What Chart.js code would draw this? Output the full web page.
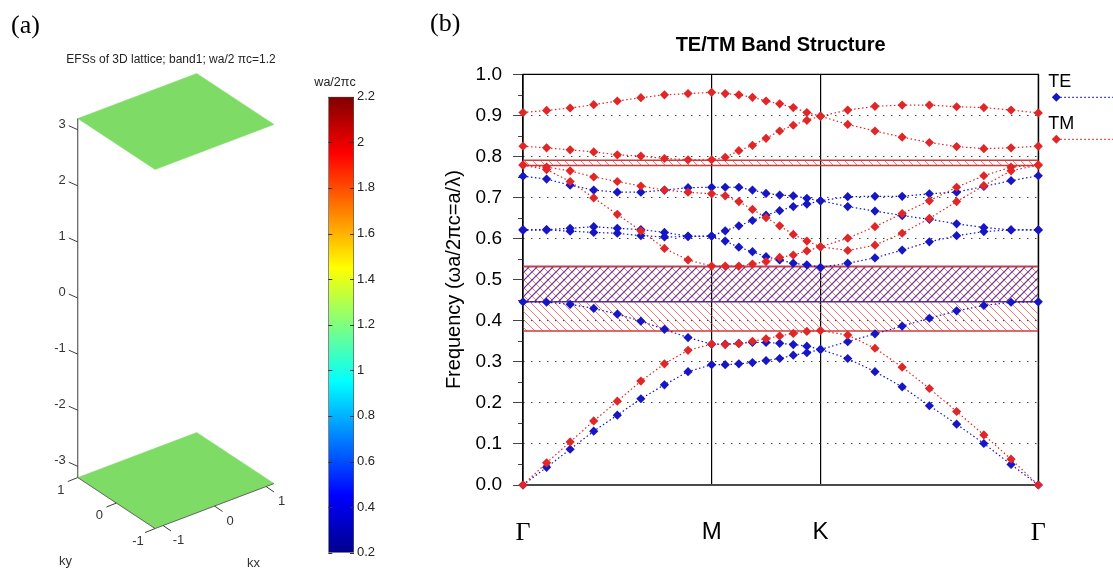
<!DOCTYPE html>
<html>
<head>
<meta charset="utf-8">
<title>EFS and TE/TM band structure</title>
<script src="https://cdn.jsdelivr.net/npm/chart.js@4.4.1/dist/chart.umd.min.js"></script>
<style>
  html, body { margin: 0; padding: 0; background: #fff; }
  #wrap { position: relative; width: 1113px; height: 570px; overflow: hidden; }
  canvas { position: absolute; top: 0; }
  #efs { left: 0; }
  #cbar { left: 300px; }
  #bands { left: 420px; }
  .panel { position: absolute; font: 26px 'Liberation Serif', 'Times New Roman', serif; line-height: 26px; color: #000; }
</style>
</head>
<body>
<div id="wrap">
  <canvas id="efs" width="300" height="570"></canvas>
  <canvas id="cbar" width="120" height="570"></canvas>
  <canvas id="bands" width="693" height="570"></canvas>
  <div class="panel" style="left:11px; top:12px">(a)</div>
  <div class="panel" style="left:430px; top:10px">(b)</div>
</div>
<script>
const SANS = "Arial, 'Liberation Sans', Helvetica, sans-serif";
const SERIF = "'Times New Roman', 'Liberation Serif', Times, serif";

// ---- (a) equi-frequency surfaces ----
const efsTitle = 'EFSs of 3D lattice; band1; wa/2 \u03c0c=1.2';
const kxRange = [-1.155, 1.155];
const kyRange = [-1, 1];
const efsPlanes = [3.2, -3.2];          // kz of the two flat sheets
const zTicks = [3, 2, 1, 0, -1, -2, -3];
const kxTicks = [-1, 0, 1];
const kyTicks = [1, 0, -1];

// colour bar
const cbTitle = 'wa/2\u03c0c';
const cbRange = [0.2, 2.2];
const cbStops = [0.2, 0.45, 0.95, 1.45, 1.95, 2.2];
const cbColors = ['#00008c', '#0000ff', '#00ffff', '#ffff00', '#ff0000', '#800000'];

// ---- (b) band structure, k along Γ-M-K-Γ (units of 2π/a) ----
const kPath = [0, 0.0722, 0.1443, 0.2165, 0.2887, 0.3608, 0.4330, 0.5052, 0.5774,
  0.6190, 0.6607, 0.7024, 0.7440, 0.7857, 0.8274, 0.8690, 0.9107,
  0.9940, 1.0774, 1.1607, 1.2440, 1.3274, 1.4107, 1.4940, 1.5774];
const symPos = [0, 0.5774, 0.9107, 1.5774];
const symLabels = ['\u0393', 'M', 'K', '\u0393'];

const teBands = [
  [0, 0.043, 0.087, 0.131, 0.170, 0.210, 0.244, 0.276, 0.293, 0.293, 0.295, 0.298, 0.303, 0.308, 0.316, 0.322, 0.330, 0.308, 0.276, 0.239, 0.193, 0.148, 0.101, 0.050, 0],
  [0.446, 0.445, 0.440, 0.430, 0.416, 0.399, 0.379, 0.359, 0.343, 0.343, 0.345, 0.347, 0.347, 0.345, 0.342, 0.338, 0.330, 0.349, 0.368, 0.387, 0.406, 0.424, 0.437, 0.445, 0.446],
  [0.620, 0.621, 0.618, 0.615, 0.613, 0.607, 0.604, 0.605, 0.606, 0.594, 0.579, 0.568, 0.556, 0.548, 0.540, 0.536, 0.530, 0.540, 0.553, 0.572, 0.592, 0.607, 0.617, 0.621, 0.621],
  [0.622, 0.622, 0.625, 0.629, 0.625, 0.622, 0.615, 0.606, 0.606, 0.619, 0.631, 0.644, 0.657, 0.668, 0.678, 0.684, 0.692, 0.678, 0.667, 0.656, 0.647, 0.636, 0.627, 0.621, 0.621],
  [0.752, 0.745, 0.730, 0.718, 0.713, 0.713, 0.718, 0.724, 0.725, 0.725, 0.725, 0.718, 0.710, 0.706, 0.704, 0.698, 0.692, 0.702, 0.703, 0.703, 0.709, 0.713, 0.727, 0.741, 0.753]
];
const tmBands = [
  [0, 0.054, 0.105, 0.156, 0.204, 0.253, 0.295, 0.328, 0.343, 0.342, 0.344, 0.350, 0.356, 0.363, 0.369, 0.374, 0.376, 0.365, 0.333, 0.287, 0.235, 0.179, 0.122, 0.063, 0],
  [0.779, 0.768, 0.739, 0.699, 0.659, 0.619, 0.576, 0.548, 0.533, 0.533, 0.533, 0.538, 0.544, 0.554, 0.560, 0.570, 0.580, 0.571, 0.584, 0.613, 0.649, 0.690, 0.729, 0.765, 0.779],
  [0.779, 0.774, 0.765, 0.750, 0.739, 0.728, 0.718, 0.713, 0.709, 0.704, 0.690, 0.671, 0.651, 0.631, 0.610, 0.594, 0.580, 0.601, 0.629, 0.661, 0.692, 0.725, 0.753, 0.774, 0.779],
  [0.825, 0.821, 0.816, 0.811, 0.804, 0.801, 0.795, 0.792, 0.792, 0.798, 0.814, 0.827, 0.844, 0.862, 0.876, 0.888, 0.898, 0.878, 0.862, 0.847, 0.834, 0.824, 0.819, 0.821, 0.825],
  [0.907, 0.912, 0.918, 0.926, 0.935, 0.943, 0.950, 0.953, 0.956, 0.953, 0.950, 0.944, 0.935, 0.928, 0.919, 0.907, 0.898, 0.913, 0.922, 0.925, 0.925, 0.921, 0.919, 0.913, 0.906]
];
const teGaps = [[0.446, 0.532]];
const tmGaps = [[0.375, 0.532], [0.778, 0.791]];
const legendLabels = ['TE', 'TM'];

const teColor = '#1616c4';
const tmColor = '#e02626';

// ================= (a) 3D sheets =================
const PLANE_GREEN = '#7edc66';
// oblique view used to put (kx, ky, kz) on the flat canvas
const view = { cx: 175.9, cy: 301, ax: 51.5, ay: -19.5, bx: -38.65, by: -25.5, cz: 56.1 };
function project(kx, ky, kz) {
  return { x: view.cx + view.ax * kx + view.bx * ky, y: view.cy + view.ay * kx + view.by * ky - view.cz * kz };
}
function planeOutline(kz) {
  const corners = [[kxRange[0], kyRange[0]], [kxRange[1], kyRange[0]], [kxRange[1], kyRange[1]], [kxRange[0], kyRange[1]], [kxRange[0], kyRange[0]]];
  return corners.map(c => project(c[0], c[1], kz));
}

const efsAxes = {
  id: 'efsAxes',
  afterDatasetsDraw(chart) {
    const { ctx, scales: { x, y } } = chart;
    const at = (kx, ky, kz) => {
      const p = project(kx, ky, kz);
      return { x: x.getPixelForValue(p.x), y: y.getPixelForValue(p.y) };
    };
    const seg = (p, q) => { ctx.beginPath(); ctx.moveTo(p.x, p.y); ctx.lineTo(q.x, q.y); ctx.stroke(); };
    const zLo = Math.min(...efsPlanes), zHi = Math.max(...efsPlanes);
    const [kx0, kx1] = kxRange, [ky0, ky1] = kyRange;

    ctx.save();
    ctx.lineWidth = 1;
    ctx.strokeStyle = '#3c3c3c';
    ctx.fillStyle = '#333';
    ctx.font = '13px ' + SANS;
    ctx.textBaseline = 'middle';

    // kz axis up the left corner
    seg(at(kx0, ky1, zLo), at(kx0, ky1, zHi));
    ctx.textAlign = 'right';
    zTicks.forEach(z => {
      const b = at(kx0, ky1, z);
      seg(b, { x: b.x - 9, y: b.y - 4 });
      ctx.fillText(String(z), b.x - 12, b.y - 5.5);
    });

    // ky and kx axes along the front edges of the lower sheet
    ctx.strokeStyle = '#666';
    seg(at(kx0, ky1, zLo), at(kx0, ky0, zLo));
    seg(at(kx0, ky0, zLo), at(kx1, ky0, zLo));
    ctx.strokeStyle = '#3c3c3c';
    ctx.textAlign = 'center';
    kyTicks.forEach(k => {
      const b = at(kx0, k, zLo);
      seg(b, { x: b.x - 10, y: b.y + 4 });
      ctx.fillText(String(k), b.x - 17, b.y + 12.5);
    });
    kxTicks.forEach(k => {
      const b = at(k, ky0, zLo);
      seg(b, { x: b.x + 8, y: b.y + 5.5 });
      ctx.fillText(String(k), b.x + 15.5, b.y + 15);
    });
    const kyMid = at(kx0, 0, zLo), kxMid = at(0, ky0, zLo);
    ctx.fillText('ky', kyMid.x - 51, kyMid.y + 58);
    ctx.fillText('kx', kxMid.x + 39, kxMid.y + 57);

    ctx.font = '12px ' + SANS;
    ctx.fillStyle = '#222';
    ctx.fillText(efsTitle, 171, 60);
    ctx.restore();
  }
};

new Chart(document.getElementById('efs'), {
  type: 'line',
  data: {
    datasets: efsPlanes.map(kz => ({
      data: planeOutline(kz),
      fill: 'shape',
      backgroundColor: PLANE_GREEN,
      borderColor: PLANE_GREEN,
      borderWidth: 0.5,
      pointRadius: 0,
      tension: 0
    }))
  },
  options: {
    responsive: false, animation: false, devicePixelRatio: 1, events: [],
    layout: { padding: 0 },
    plugins: { legend: { display: false }, tooltip: { enabled: false } },
    scales: {
      x: { type: 'linear', display: false, min: 0, max: 300 },
      y: { type: 'linear', display: false, min: 0, max: 570, reverse: true }
    }
  },
  plugins: [efsAxes]
});

// ================= colour bar =================
function jetFill(context) {
  const chart = context.chart;
  const sy = chart.scales.y;
  if (!chart.chartArea || !sy) return cbColors[2];
  const g = chart.ctx.createLinearGradient(0, sy.getPixelForValue(cbRange[0]), 0, sy.getPixelForValue(cbRange[1]));
  cbStops.forEach((v, i) => g.addColorStop((v - cbRange[0]) / (cbRange[1] - cbRange[0]), cbColors[i]));
  return g;
}

const cbDecor = {
  id: 'cbDecor',
  afterDatasetsDraw(chart) {
    const { ctx, chartArea: a, scales: { y } } = chart;
    ctx.save();
    ctx.strokeStyle = '#333';
    ctx.lineWidth = 1;
    y.ticks.forEach(t => {
      const py = Math.round(y.getPixelForValue(t.value)) + 0.5;
      ctx.beginPath();
      ctx.moveTo(a.left, py); ctx.lineTo(a.left + 4, py);
      ctx.moveTo(a.right - 4, py); ctx.lineTo(a.right, py);
      ctx.stroke();
    });
    ctx.fillStyle = '#222';
    ctx.font = '12.5px ' + SANS;
    ctx.textAlign = 'center';
    ctx.textBaseline = 'middle';
    ctx.fillText(cbTitle, 35, 83);
    ctx.restore();
  }
};

new Chart(document.getElementById('cbar'), {
  type: 'bar',
  data: {
    labels: [''],
    datasets: [{
      data: [cbRange],
      backgroundColor: jetFill,
      borderColor: '#555',
      borderWidth: 1,
      borderSkipped: false,
      barPercentage: 1,
      categoryPercentage: 1
    }]
  },
  options: {
    responsive: false, animation: false, devicePixelRatio: 1, events: [],
    layout: { padding: { left: 28.3, top: 96.7, bottom: 17.3, right: 0 } },
    plugins: { legend: { display: false }, tooltip: { enabled: false } },
    scales: {
      x: { display: false },
      y: {
        position: 'right', min: cbRange[0], max: cbRange[1],
        ticks: { stepSize: 0.2, padding: 3, color: '#222', font: { family: SANS, size: 13 },
                 callback: v => String(+v.toFixed(1)) },
        grid: { display: false, drawTicks: false },
        border: { display: false },
        afterFit: s => { s.width = 66; }
      }
    }
  },
  plugins: [cbDecor]
});

// ================= (b) band structure =================
function hatch(color, width, rising) {
  const c = document.createElement('canvas');
  c.width = c.height = 8;
  const g = c.getContext('2d');
  g.strokeStyle = color;
  g.lineWidth = width;
  g.beginPath();
  if (rising) {
    g.moveTo(0, 8); g.lineTo(8, 0);
    g.moveTo(-1, 1); g.lineTo(1, -1);
    g.moveTo(7, 9); g.lineTo(9, 7);
  } else {
    g.moveTo(0, 0); g.lineTo(8, 8);
    g.moveTo(-1, 7); g.lineTo(1, 9);
    g.moveTo(7, -1); g.lineTo(9, 1);
  }
  g.stroke();
  return g.createPattern(c, 'repeat');
}
const tmHatch = hatch('rgba(214,70,70,0.7)', 1, false);
const teHatch = hatch('rgba(70,30,150,0.9)', 1.2, true);

function bandSet(values, color) {
  return {
    data: values.map((v, i) => ({ x: kPath[i], y: v })),
    borderColor: color,
    backgroundColor: color,
    borderWidth: 1.2,
    borderDash: [1.5, 2.5],
    pointStyle: 'rectRot',
    pointRadius: 4.6,
    pointHoverRadius: 4.6,
    pointBorderWidth: 0,
    fill: false,
    tension: 0,
    clip: false
  };
}
function gapSets(range, pattern, edge) {
  const ends = [kPath[0], kPath[kPath.length - 1]];
  return [
    { data: ends.map(x => ({ x, y: range[0] })), fill: '+1', backgroundColor: pattern,
      borderColor: edge, borderWidth: 1.5, pointRadius: 0, tension: 0 },
    { data: ends.map(x => ({ x, y: range[1] })), fill: false,
      borderColor: edge, borderWidth: 1.5, pointRadius: 0, tension: 0 }
  ];
}

const datasets = [
  ...tmBands.map(b => bandSet(b, tmColor)),
  ...teBands.map(b => bandSet(b, teColor)),
  ...tmGaps.flatMap(g => gapSets(g, tmHatch, '#d23a3a')),
  ...teGaps.flatMap(g => gapSets(g, teHatch, '#4a2c8c'))
];

const bandFrame = {
  id: 'bandFrame',
  beforeDatasetsDraw(chart) {
    const { ctx, chartArea: a, scales: { y } } = chart;
    ctx.save();
    // short ticks halfway between the labelled ones
    ctx.strokeStyle = '#444';
    ctx.lineWidth = 1;
    y.ticks.slice(1).forEach((t, i) => {
      const py = Math.round(y.getPixelForValue((t.value + y.ticks[i].value) / 2)) + 0.5;
      ctx.beginPath(); ctx.moveTo(a.left - 5, py); ctx.lineTo(a.left, py); ctx.stroke();
    });
    ctx.strokeStyle = '#000';
    ctx.lineWidth = 1.3;
    ctx.beginPath();
    ctx.moveTo(a.left, a.bottom); ctx.lineTo(a.left, a.top);
    ctx.lineTo(a.right, a.top); ctx.lineTo(a.right, a.bottom);
    ctx.stroke();
    ctx.strokeStyle = '#4a4a4a';
    ctx.lineWidth = 2;
    ctx.beginPath(); ctx.moveTo(a.left, a.bottom); ctx.lineTo(a.right, a.bottom); ctx.stroke();
    ctx.restore();
  },
  afterDraw(chart) {
    const { ctx, chartArea: a } = chart;
    ctx.save();
    // title
    ctx.fillStyle = '#000';
    ctx.font = 'bold 20px ' + SANS;
    ctx.textAlign = 'center';
    ctx.textBaseline = 'middle';
    ctx.fillText('TE/TM Band Structure', (a.left + a.right) / 2, 45);
    // legend: label above a marker with a dotted tail
    const colors = [teColor, tmColor];
    const x0 = a.right + 10;
    legendLabels.forEach((label, i) => {
      const ty = a.top + 7.5 + 42 * i;
      const my = ty + 15.5;
      ctx.fillStyle = '#000';
      ctx.font = '18px ' + SANS;
      ctx.textAlign = 'left';
      ctx.fillText(label, x0, ty);
      ctx.strokeStyle = colors[i];
      ctx.lineWidth = 1.2;
      ctx.setLineDash([1.5, 2.5]);
      ctx.beginPath(); ctx.moveTo(x0 + 8, my); ctx.lineTo(chart.width, my); ctx.stroke();
      ctx.setLineDash([]);
      ctx.fillStyle = colors[i];
      ctx.beginPath();
      ctx.moveTo(x0 + 3.5, my); ctx.lineTo(x0 + 8, my - 4.5); ctx.lineTo(x0 + 12.5, my); ctx.lineTo(x0 + 8, my + 4.5);
      ctx.closePath(); ctx.fill();
    });
    ctx.restore();
  }
};

new Chart(document.getElementById('bands'), {
  type: 'line',
  data: { datasets },
  options: {
    responsive: false, animation: false, devicePixelRatio: 1, events: [],
    layout: { padding: { top: 74.3, right: 74.7, left: 0, bottom: 0 } },
    plugins: { legend: { display: false }, tooltip: { enabled: false }, title: { display: false } },
    scales: {
      x: {
        type: 'linear', min: symPos[0], max: symPos[symPos.length - 1],
        afterBuildTicks: s => { s.ticks = symPos.map(v => ({ value: v })); },
        ticks: {
          autoSkip: false, maxRotation: 0, padding: 33, color: '#000',
          font: c => (c.index === 1 || c.index === 2) ? { family: SANS, size: 24 } : { family: SERIF, size: 26 },
          callback: (v, i) => symLabels[i]
        },
        grid: { color: '#000', lineWidth: 1.2, drawTicks: false },
        border: { display: false },
        afterFit: s => { s.height = 85; }
      },
      y: {
        min: 0, max: 1,
        ticks: { stepSize: 0.1, padding: 11, color: '#000', font: { family: SANS, size: 19 },
                 callback: v => v.toFixed(1) },
        grid: {
          color: c => (c.tick && c.tick.value > 0.001 && c.tick.value < 0.999) ? '#444' : 'rgba(0,0,0,0)',
          tickColor: '#444', tickLength: 10, lineWidth: 1
        },
        border: { display: false, dash: [1.5, 6.5] },
        title: { display: true, text: 'Frequency (\u03c9a/2\u03c0c=a/\u03bb)', color: '#000',
                 font: { family: SANS, size: 20 }, padding: { top: 22, bottom: 0 } },
        afterFit: s => { s.width = 103; }
      }
    }
  },
  plugins: [bandFrame]
});
</script>
</body>
</html>
